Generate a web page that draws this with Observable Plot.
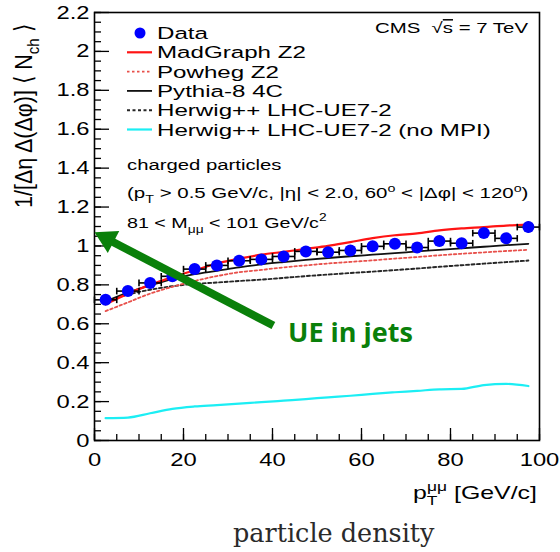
<!DOCTYPE html>
<html><head><meta charset="utf-8">
<script src="https://cdn.jsdelivr.net/npm/d3@7"></script>
<script src="https://cdn.jsdelivr.net/npm/@observablehq/plot@0.6"></script>
<style>
body{margin:0;background:#fff;}
#wrap{position:relative;width:560px;height:552px;}
#wrap svg text{white-space:pre;}
</style></head><body><div id="wrap"></div>
<script>
// ---- data ----
const ptBins = [2.5,7.5,12.5,17.5,22.5,27.5,32.5,37.5,42.5,47.5,52.5,57.5,62.5,67.5,72.5,77.5,82.5,87.5,92.5,97.5];
const dataVals = [0.723,0.768,0.810,0.844,0.881,0.900,0.924,0.931,0.946,0.972,0.968,0.977,0.998,1.011,0.992,1.025,1.014,1.066,1.039,1.097];
const dataErrY = [0.015,0.015,0.015,0.015,0.015,0.015,0.015,0.015,0.015,0.015,0.015,0.015,0.018,0.018,0.018,0.02,0.02,0.022,0.022,0.03];
const madgraph = [0.700,0.755,0.800,0.840,0.875,0.910,0.935,0.955,0.970,0.985,1.000,1.020,1.040,1.055,1.065,1.080,1.090,1.097,1.105,1.110];
const powheg   = [0.665,0.710,0.755,0.790,0.820,0.845,0.865,0.877,0.890,0.900,0.910,0.918,0.926,0.935,0.943,0.952,0.960,0.967,0.974,0.980];
const pythia   = [0.715,0.760,0.797,0.830,0.855,0.872,0.890,0.905,0.917,0.928,0.938,0.947,0.955,0.963,0.972,0.980,0.988,0.996,1.004,1.011];
const herwig   = [0.715,0.750,0.775,0.793,0.805,0.812,0.820,0.827,0.836,0.845,0.853,0.861,0.868,0.876,0.884,0.893,0.901,0.909,0.917,0.925];
const herwigNoMPI = [0.115,0.118,0.140,0.163,0.175,0.182,0.190,0.197,0.205,0.213,0.222,0.230,0.240,0.248,0.255,0.263,0.265,0.285,0.291,0.280];
const binHalfWidth = 2.5;
const yTickLabels = [0,0.2,0.4,0.6,0.8,1,1.2,1.4,1.6,1.8,2,2.2];
const xTickLabels = [0,20,40,60,80,100];
const legendNames = ["Data","MadGraph Z2","Powheg Z2","Pythia-8 4C","Herwig++ LHC-UE7-2","Herwig++ LHC-UE7-2 (no MPI)"];
// annotation (green arrow) in data coordinates
const arrowTail = {x:40.2, y:0.591};
const arrowShaftEnd = {x:3.6, y:1.027};
const arrowHead = {x:2.85, y:1.037};
const noteText = "UE in jets";

// ---- build ----
const green = "#0a800a";
const rows = ptBins.map((x,i)=>({x, y:dataVals[i], e:dataErrY[i]}));
const series = [
  {vals: herwigNoMPI, stroke:"#1ceef4", w:2.2, dash:null},
  {vals: herwig, stroke:"#262626", w:1.9, dash:"3,2.5"},
  {vals: powheg, stroke:"#e8504b", w:1.8, dash:"2.5,2.5"},
  {vals: pythia, stroke:"#111", w:1.8, dash:null},
  {vals: madgraph, stroke:"#ff1414", w:2.2, dash:null}
];
const yMinor = d3.range(0, 2.2001, 0.05);
const xMinor = d3.range(0, 100.01, 5);

const chart = Plot.plot({
  width:560, height:510,
  marginLeft:94, marginRight:21, marginTop:12, marginBottom:70,
  style:{fontFamily:"'Liberation Sans', Arial, sans-serif", color:"#000", background:"transparent"},
  x:{domain:[0,100]},
  y:{domain:[0,2.2]},
  marks:[
    Plot.axisY(yMinor, {tickSize:-7, fill:"none", label:null, strokeWidth:1.3}),
    Plot.axisY(yTickLabels, {tickSize:-15, fill:"none", label:null, strokeWidth:1.3}),
    Plot.axisY(yTickLabels, {tickSize:0, tickPadding:5, fontSize:19, label:null, tickFormat:d=>String(d)}),
    Plot.axisX(xMinor, {tickSize:-6, fill:"none", label:null, strokeWidth:1.3}),
    Plot.axisX(xTickLabels, {tickSize:-12, fill:"none", label:null, strokeWidth:1.3}),
    Plot.axisX(xTickLabels, {tickSize:0, tickPadding:12, fontSize:19, label:null, tickFormat:d=>String(d)}),
    ...series.map(s => Plot.line(ptBins.map((x,i)=>({x, y:s.vals[i]})), {x:"x", y:"y", stroke:s.stroke, strokeWidth:s.w, strokeDasharray:s.dash, curve:"monotone-x"})),
    Plot.link(rows, {x1:d=>d.x-binHalfWidth, x2:d=>d.x+binHalfWidth, y1:"y", y2:"y", stroke:"#000", strokeWidth:1.6}),
    Plot.link(rows, {x1:d=>d.x-binHalfWidth, x2:d=>d.x-binHalfWidth, y1:d=>d.y-0.017, y2:d=>d.y+0.017, stroke:"#000", strokeWidth:1.6}),
    Plot.link(rows, {x1:d=>d.x+binHalfWidth, x2:d=>d.x+binHalfWidth, y1:d=>d.y-0.017, y2:d=>d.y+0.017, stroke:"#000", strokeWidth:1.6}),
    Plot.link(rows, {x1:"x", x2:"x", y1:d=>d.y-d.e, y2:d=>d.y+d.e, stroke:"#000", strokeWidth:1.6}),
    Plot.dot(rows, {x:"x", y:"y", r:6, fill:"#0000ff", stroke:"none"}),
    Plot.frame({stroke:"#000", strokeWidth:1.6}),
    Plot.link([0], {x1:()=>arrowTail.x, y1:()=>arrowTail.y, x2:()=>arrowShaftEnd.x, y2:()=>arrowShaftEnd.y, stroke:green, strokeWidth:8}),
    Plot.dot([arrowHead], {x:"x", y:"y", symbol:"triangle", r:9.2, fill:green, stroke:"none", rotate:-62.4})
  ]
});
document.getElementById("wrap").appendChild(chart);

// stretch tick labels horizontally (reference glyphs are wide)
d3.select(chart).selectAll('g[aria-label$="tick label"] text').each(function(){
  const t = this.getAttribute("transform");
  if (t) this.setAttribute("transform", t + " scale(1.25,1)");
  else {
    const x = this.getAttribute("x")||0, y = this.getAttribute("y")||0;
    this.removeAttribute("x"); this.removeAttribute("y");
    this.setAttribute("transform", `translate(${x},${y}) scale(1.25,1)`);
  }
});

// ---- overlay: legend, texts, titles ----
const ov = d3.select("#wrap").append("svg")
  .attr("width",560).attr("height",552)
  .style("position","absolute").style("left","0px").style("top","0px")
  .style("font-family","'Liberation Sans', Arial, sans-serif");

function rich(x, y, parts, o={}) {
  const size = o.size||16, sx = o.sx ?? 1.25, sy = o.sy ?? 1;
  const t = ov.append("text")
    .attr("transform", `translate(${x},${y})${o.rotate?` rotate(${o.rotate})`:""} scale(${sx},${sy})`)
    .attr("font-size", size).attr("text-anchor", o.anchor||"start").attr("fill", o.fill||"#000");
  if (o.family) t.attr("font-family", o.family);
  if (o.weight) t.attr("font-weight", o.weight);
  let cur = 0;
  const add = (txt, off, fs, dx, deco) => {
    const s = t.append("tspan").attr("dy", off-cur).attr("font-size", fs).text(txt);
    if (dx) s.attr("dx", dx);
    if (deco) s.attr("text-decoration", deco);
    cur = off;
  };
  for (const p of parts) {
    if (typeof p === "string") add(p, 0, size);
    else if (p.sub !== undefined) add(p.sub, 0.3*size, 0.7*size, p.dx);
    else if (p.sup !== undefined) add(p.sup, -0.42*size, 0.7*size, p.dx);
    else if (p.over !== undefined) add(p.over, 0, size, p.dx, "overline");
  }
  return t;
}

// legend
const legBase = [39, 58.3, 77.6, 96.9, 116.2, 135.5];
const legStyles = [null, series[4], series[2], series[3], series[1], series[0]];
legendNames.forEach((name,i)=>{
  const yb = legBase[i];
  if (i===0) ov.append("circle").attr("cx",140).attr("cy",yb-6).attr("r",5.5).attr("fill","#0000ff");
  else {
    const s = legStyles[i];
    ov.append("line").attr("x1",127).attr("x2",152).attr("y1",yb-6).attr("y2",yb-6)
      .attr("stroke",s.stroke).attr("stroke-width",s.w).attr("stroke-dasharray", s.dash);
  }
  rich(157, yb, [name], {size:17, sx:1.42});
});

rich(528, 33.3, ["CMS  √", {over:"s"}, " = 7 TeV"], {size:15, anchor:"end", sx:1.36});
rich(127, 170, ["charged particles"], {size:15.5, sx:1.31});
rich(127, 198, ["(p", {sub:"T"}, " > 0.5 GeV/c, |η| < 2.0, 60", {sup:"o"}, " < |Δφ| < 120", {sup:"o"}, ")"], {size:15.5, sx:1.32});
rich(127, 228, ["81 < M", {sub:"μμ"}, " < 101 GeV/c", {sup:"2"}], {size:15.5, sx:1.27});

// axis titles
rich(32, 208, ["1/[Δη Δ(Δφ)] ⟨ N", {sub:"ch"}, " ⟩"], {size:21.5, rotate:-90, sx:1, sy:1.15});
rich(413, 499, ["p", {sub:"T"}, {sup:"μμ", dx:-8}, " [GeV/c]"], {size:19, sx:1.31});

// annotation text
rich(288, 341.7, [noteText], {size:27, sx:1, family:"'Open Sans', sans-serif", weight:"bold", fill:green});

// caption
rich(233, 542, ["particle density"], {size:25.5, sx:1, family:"'DejaVu Serif', serif", fill:"#2a2a2a"});
</script>
</body></html>
